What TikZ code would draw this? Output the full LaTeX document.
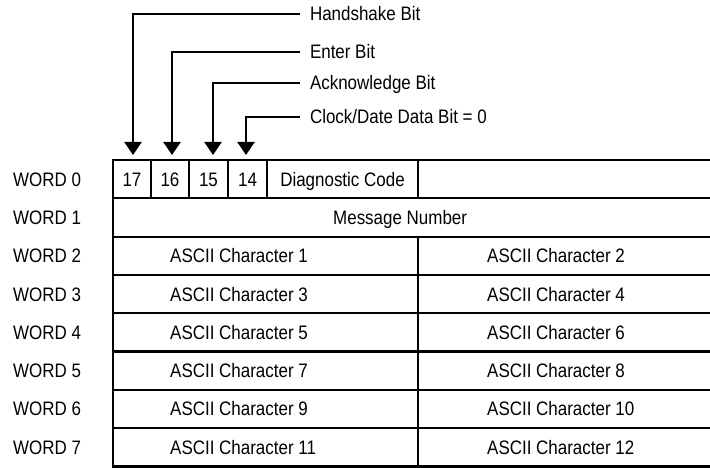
\documentclass[tikz,border=0pt]{standalone}
\usepackage{fontspec}
\setmainfont{Liberation Sans}[FakeStretch=0.87]
\usetikzlibrary{arrows.meta}

\begin{document}
\begin{tikzpicture}[
  x=1pt,
  y=-1pt,
  font=\fontsize{19.5}{22}\selectfont,
  >={Triangle[length=13pt,width=17pt]},
  txt/.style={text height=14pt, text depth=0pt},
  cell/.style={txt, draw, line width=2.2pt, minimum height=38.3pt, inner sep=0pt, outer sep=0pt, anchor=north west},
  word/.style={txt, anchor=west, inner sep=0pt},
  entry/.style={txt, anchor=west, inner sep=0pt},
  bitlabel/.style={txt, anchor=west, inner xsep=10pt, inner ysep=0pt, outer sep=0pt},
  link/.style={->, line width=2.2pt, shorten >=5pt}
]
  \useasboundingbox (0,0) rectangle (710,468);

  % word 0: status bits
  \node[cell, minimum width=38pt] (b17) at (113,160) {17};
  \node[cell, minimum width=38pt] (b16) at (151,160) {16};
  \node[cell, minimum width=39pt] (b15) at (189,160) {15};
  \node[cell, minimum width=39pt] (b14) at (228,160) {14};
  \node[cell, minimum width=151pt] (diag) at (267,160) {Diagnostic Code};
  \node[cell, minimum width=300pt] (spare) at (418,160) {};

  % word 1
  \node[cell, minimum width=605pt] (msg) at (113,198.3) {};
  \node[entry] (msgtxt) at (333,217.45) {Message Number};

  % words 2-7: characters
  \foreach \r/\a/\b in {2/1/2, 3/3/4, 4/5/6, 5/7/8, 6/9/10, 7/11/12} {
    \node[cell, minimum width=305pt] (l\r) at (113,{160+\r*38.3}) {};
    \node[cell, minimum width=300pt] (r\r) at (418,{160+\r*38.3}) {};
    \node[entry] (tl\r) at (170,{179.15+\r*38.3}) {ASCII Character \a};
    \node[entry] (tr\r) at (487,{179.15+\r*38.3}) {ASCII Character \b};
  }

  \foreach \r in {0,...,7}
    \node[word] (w\r) at (13,{179.15+\r*38.3}) {WORD \r};

  % bit labels
  \node[bitlabel] (hs) at (300,14) {Handshake Bit};
  \node[bitlabel] (en) at (300,52) {Enter Bit};
  \node[bitlabel] (ack) at (300,83) {Acknowledge Bit};
  \node[bitlabel] (clk) at (300,117) {Clock/Date Data Bit = 0};

  \draw[link] (hs.west) -| ([xshift=1pt]b17.north);
  \draw[link] (en.west) -| ([xshift=2pt]b16.north);
  \draw[link] (ack.west) -| ([xshift=4.5pt]b15.north);
  \draw[link] (clk.west) -| ([xshift=-1.5pt]b14.north);
\end{tikzpicture}
\end{document}
